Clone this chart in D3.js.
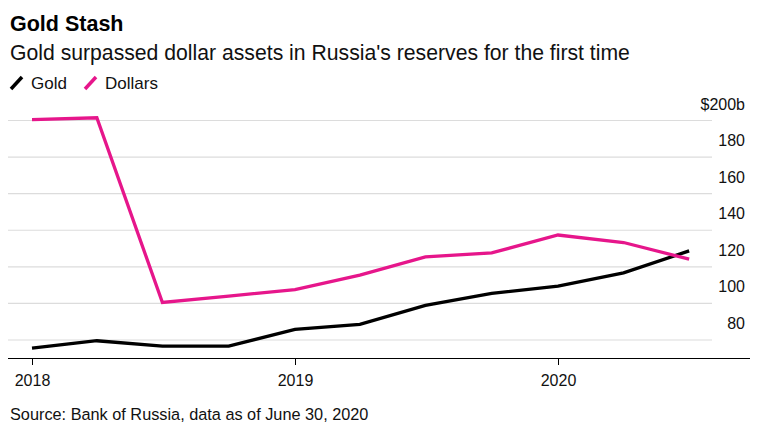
<!DOCTYPE html>
<html><head><meta charset="utf-8">
<script src="https://cdn.jsdelivr.net/npm/d3@7"></script>
<style>
body{margin:0;background:#fff;}
svg{display:block;font-family:"Liberation Sans",Arial,sans-serif;}
</style></head>
<body>
<svg id="c" width="760" height="430"></svg>
<script>
const dates = ["2018-01-01","2018-04-01","2018-07-01","2018-10-01","2019-01-01","2019-04-01","2019-07-01","2019-10-01","2020-01-01","2020-04-01","2020-07-01"];
const gold = [75.5, 79.6, 76.7, 76.7, 85.8, 88.5, 98.9, 105.5, 109.5, 116.7, 128.7];
const dollars = [200.5, 201.5, 100.5, 104.0, 107.5, 115.5, 125.4, 127.6, 137.4, 133.3, 124.2];
const yTicks = [80, 100, 120, 140, 160, 180, 200];
const xTickLabels = ["2018", "2019", "2020"];
const seriesNames = ["Gold", "Dollars"];
const colors = ["#000000", "#e6168b"];

const svg = d3.select("#c");
const parse = d3.timeParse("%Y-%m-%d");
const x = d3.scaleTime().domain([parse("2018-01-01"), parse("2020-01-01")]).range([32, 558]);
const y = d3.scaleLinear().domain([80, 200]).range([340, 120.5]);

// titles
svg.append("text").attr("x", 10).attr("y", 31).attr("font-size", 21.5).attr("font-weight", "bold").attr("fill", "#000").text("Gold Stash");
svg.append("text").attr("x", 10).attr("y", 60).attr("font-size", 21.2).attr("fill", "#111").text("Gold surpassed dollar assets in Russia's reserves for the first time");

// legend
const lg = svg.append("g");
const legX = [10, 84];
seriesNames.forEach((n, i) => {
  lg.append("line").attr("x1", legX[i] + 1).attr("y1", 89).attr("x2", legX[i] + 12).attr("y2", 77)
    .attr("stroke", colors[i]).attr("stroke-width", 3.5).attr("stroke-linecap", "butt");
  lg.append("text").attr("x", legX[i] + 21).attr("y", 89).attr("font-size", 17).attr("fill", "#111").text(n);
});

// gridlines
svg.append("g").selectAll("line").data(yTicks).join("line")
  .attr("x1", 8).attr("x2", 712).attr("y1", d => y(d)).attr("y2", d => y(d))
  .attr("stroke", "#dcdcdc").attr("stroke-width", 1.2);

// y labels
svg.append("g").selectAll("text").data(yTicks).join("text")
  .attr("x", 745).attr("y", d => y(d) - 11).attr("text-anchor", "end")
  .attr("font-size", 16).attr("fill", "#111")
  .text(d => d === 200 ? "$200b" : d);

// x axis
const xAxis = d3.axisBottom(x)
  .tickValues(xTickLabels.map(t => parse(t + "-01-01")))
  .tickFormat((d, i) => xTickLabels[i])
  .tickSize(7).tickPadding(10);
const ax = svg.append("g").attr("transform", "translate(0,358)").call(xAxis);
ax.select(".domain").attr("d", "M8,0.5H750").attr("stroke", "#000").attr("stroke-width", 1.2);
ax.selectAll(".tick line").attr("stroke", "#000");
ax.selectAll(".tick text").attr("font-size", 16).attr("fill", "#111").attr("font-family", "Liberation Sans, Arial, sans-serif");

// lines
const line = d3.line().x((d, i) => x(parse(dates[i]))).y(d => y(d));
[gold, dollars].forEach((s, i) => {
  svg.append("path").datum(s).attr("d", line).attr("fill", "none")
    .attr("stroke", colors[i]).attr("stroke-width", 3.3).attr("stroke-linejoin", "miter");
});

// source
svg.append("text").attr("x", 10).attr("y", 420).attr("font-size", 16.3).attr("fill", "#111")
  .text("Source: Bank of Russia, data as of June 30, 2020");
</script>
</body></html>
